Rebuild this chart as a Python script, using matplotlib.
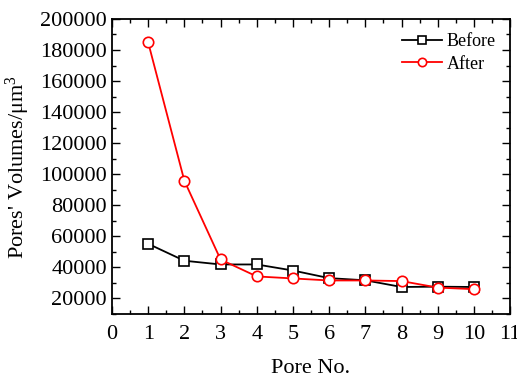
import matplotlib.pyplot as plt
from matplotlib.ticker import MultipleLocator

plt.rcParams['font.family'] = ['Liberation Serif', 'DejaVu Serif']
plt.rcParams['mathtext.fontset'] = 'custom'
plt.rcParams['mathtext.rm'] = 'Liberation Serif'
plt.rcParams['mathtext.it'] = 'Liberation Serif:italic'

pore_no = [1, 2, 3, 4, 5, 6, 7, 8, 9, 10]
before = [55200, 44300, 41900, 41900, 38000, 33100, 31700, 27400, 27600, 27400]
after = [184900, 95800, 45100, 34200, 32900, 31600, 31600, 31200, 27000, 26000]

fig = plt.figure(figsize=(5.17, 3.79), dpi=100)
ax = fig.add_axes([0.2166, 0.1715, 0.77, 0.7785])

ax.plot(pore_no, before, color='black', lw=1.3, marker='s', ms=6.5,
        mfc='white', mec='black', mew=1.2, label='Before')
ax.plot(pore_no, after, color='red', lw=1.3, marker='o', ms=7.5,
        mfc='white', mec='red', mew=1.2, label='After')

ax.set_xlim(0, 11)
ax.set_ylim(10000, 200000)
ax.xaxis.set_major_locator(MultipleLocator(1))
ax.xaxis.set_minor_locator(MultipleLocator(0.5))
ax.yaxis.set_minor_locator(MultipleLocator(10000))
ax.set_yticks(range(20000, 200001, 20000))

ax.tick_params(which='both', direction='in', top=True, right=True,
               labelsize=16, width=1.0)
ax.tick_params(which='major', length=5.5)
ax.tick_params(which='minor', length=3)
ax.tick_params(axis='x', pad=8)
for s in ax.spines.values():
    s.set_linewidth(1.3)

ax.set_xlabel('Pore No.', fontsize=16, labelpad=11)
ax.set_ylabel("Pores' Volumes/\u03bcm$^3$", fontsize=16, labelpad=6)

leg = ax.legend(loc='upper right', frameon=False, fontsize=13, handlelength=2.2,
                handletextpad=0.25, labelspacing=0.3, borderaxespad=0.4,
                markerscale=0.8)

fig.savefig('out.png', dpi=100)
